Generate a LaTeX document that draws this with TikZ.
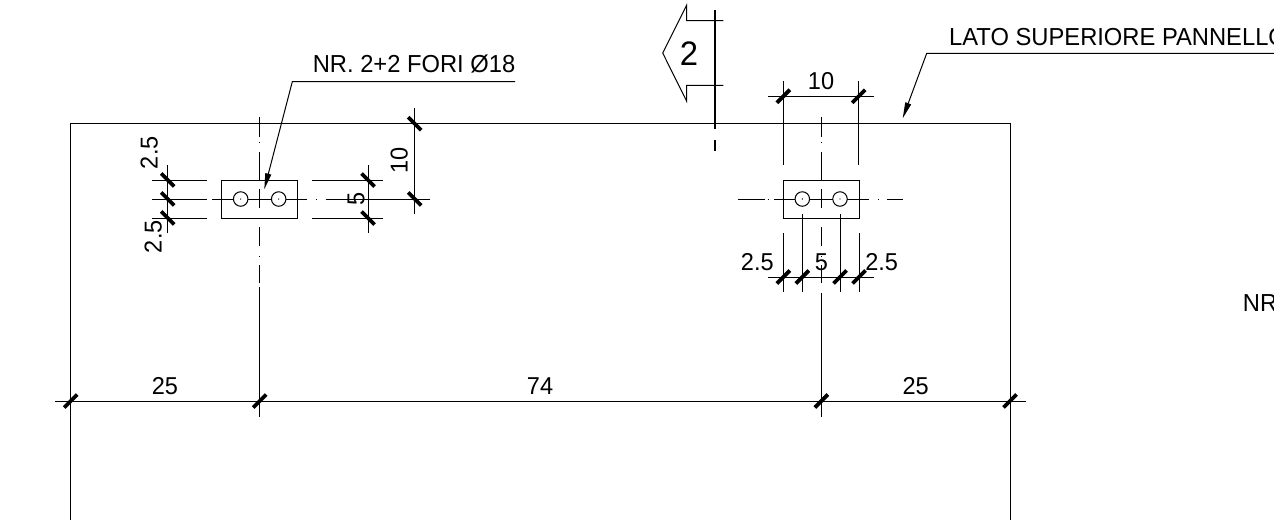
\documentclass[tikz,border=0pt]{standalone}
\usepackage{fontspec}
\setmainfont[FakeStretch=0.965]{Liberation Sans}
\usetikzlibrary{arrows.meta}
\tikzset{
  ln/.style={line width=1pt,black},
  tick/.style={line width=3.8pt,black},
  sect/.style={line width=1.8pt,black},
  dimtxt/.style={inner sep=0pt,font=\fontsize{24.4}{24}\selectfont},
  lbl/.style={inner sep=0pt,anchor=base west,font=\fontsize{24.6}{24}\selectfont},
  lead/.style={ln,-{Triangle[length=16pt,width=6pt]}},
  hole/.style={draw,line width=1pt,black,circle,minimum size=14.5pt,inner sep=0pt},
}
\newcommand{\tf}[2]{\draw[tick] (#1-6.5,#2+6.5) -- (#1+6.5,#2-6.5);}
\newcommand{\tb}[2]{\draw[tick] (#1-6.5,#2-6.5) -- (#1+6.5,#2+6.5);}
\begin{document}
\begin{tikzpicture}[x=1pt,y=-1pt]
\useasboundingbox (0,0) rectangle (1274,520);
\clip (0,0) rectangle (1274,520);
% panel
\draw[ln] (70.7,520) -- (70.7,123.7) -- (1010,123.7) -- (1010,520);
% left plate
\draw[ln] (221.7,180) rectangle (297.3,218);
\foreach \a/\b in {152.3/206.7,212/233.5,248/271.5,286/307,316/316.9,325.7/430}
  \draw[ln] (\a,199) -- (\b,199);
\foreach \a/\b in {117/137,142/142.6,152/180,189/208,218/219,227/246,256/256.6,265/283,287/416.7}
  \draw[ln] (259.7,\a) -- (259.7,\b);
\node[hole] (h1) at (240.7,199) {};
\node[hole] (h2) at (278.7,199) {};
\fill (240.7,199) circle (0.7pt) (278.7,199) circle (0.7pt);
% left dims
\foreach \y in {180,218} {
  \draw[ln] (152.3,\y) -- (206.7,\y);
  \draw[ln] (312.3,\y) -- (383.3,\y);
}
\draw[ln] (167.7,165.3) -- (167.7,233.3);
\draw[ln] (368,165.3) -- (368,233.3);
\draw[ln] (414.7,108.3) -- (414.7,214.3);
\tb{167.7}{180}\tb{167.7}{199}\tb{167.7}{218}
\tb{368}{180}\tb{368}{218}
\tb{414.7}{123.7}\tb{414.7}{199}
\node[dimtxt,rotate=90] (t25a) at (149.3,152.7) {2.5};
\node[dimtxt,rotate=90] (t25b) at (153.3,236.7) {2.5};
\node[dimtxt,rotate=90] (t5a) at (356,199) {5};
\node[dimtxt,rotate=90] (t10a) at (399.3,160.7) {10};
% right plate
\draw[ln] (783.3,180.3) rectangle (859,218.3);
\foreach \a/\b in {738/765,767.5/768,774/795,810/832.5,847/869,878/878.5,887/903}
  \draw[ln] (\a,199) -- (\b,199);
\foreach \a/\b in {117/137,142/142.6,152/180,189/208,218/219,227/246,256/256.6,265/283,293/416.7}
  \draw[ln] (821.3,\a) -- (821.3,\b);
\node[hole] (h3) at (802.3,199) {};
\node[hole] (h4) at (840,199) {};
\fill (802.3,199) circle (0.7pt) (840,199) circle (0.7pt);
% right dims
\draw[ln] (783.3,81) -- (783.3,165);
\draw[ln] (858.7,81) -- (858.7,165);
\draw[ln] (768,96.3) -- (874,96.3);
\tf{783.3}{96.3}\tf{858.7}{96.3}
\node[dimtxt] (t10b) at (821,81) {10};
\draw[ln] (768.3,277) -- (874.3,277);
\draw[ln] (783.3,233.3) -- (783.3,292);
\draw[ln] (802.3,214) -- (802.3,292);
\draw[ln] (840,214) -- (840,292);
\draw[ln] (859,233.3) -- (859,292);
\tf{783.3}{277}\tf{802.3}{277}\tf{840}{277}\tf{859}{277}
\node[dimtxt] (t25c) at (757.3,262.3) {2.5};
\node[dimtxt] (t5b) at (821.3,262.3) {5};
\node[dimtxt] (t25d) at (881.7,262.3) {2.5};
% main dim
\draw[ln] (55,401) -- (1025.7,401);
\tf{70.7}{401}\tf{259.7}{401}\tf{821.3}{401}\tf{1010}{401}
\node[dimtxt] (d1) at (165,386.3) {25};
\node[dimtxt] (d2) at (540,386.3) {74};
\node[dimtxt] (d3) at (915.7,386.3) {25};
% section mark
\draw[line width=1pt,line join=miter] (723.3,20.7) -- (686.7,20.7) -- (686.7,5) -- (662.7,53) -- (686.7,101.3) -- (686.7,85.3) -- (723.3,85.3);
\draw[sect] (714.7,10) -- (714.7,129);
\draw[sect] (714.7,140) -- (714.7,150.7);
\node[inner sep=0pt,font=\fontsize{34}{34}\selectfont] (sec) at (689,54) {2};
% leaders
\coordinate (l1a) at (515,81.7);
\coordinate (l1b) at (292.3,81.7);
\coordinate (l1c) at (264.3,189.3);
\draw[lead] (l1a) -- (l1b) -- (l1c);
\node[lbl] (lab1) at (312.6,72.7) {NR. 2+2 FORI Ø18};
\coordinate (l2a) at (1274,53.3);
\coordinate (l2b) at (926.7,53.3);
\coordinate (l2c) at (902.7,118.3);
\draw[lead] (l2a) -- (l2b) -- (l2c);
\node[lbl] (lab2) at (949,45.7) {LATO SUPERIORE PANNELLO};
\node[lbl] (lab3) at (1242.7,311.7) {NR};
\end{tikzpicture}
\end{document}
